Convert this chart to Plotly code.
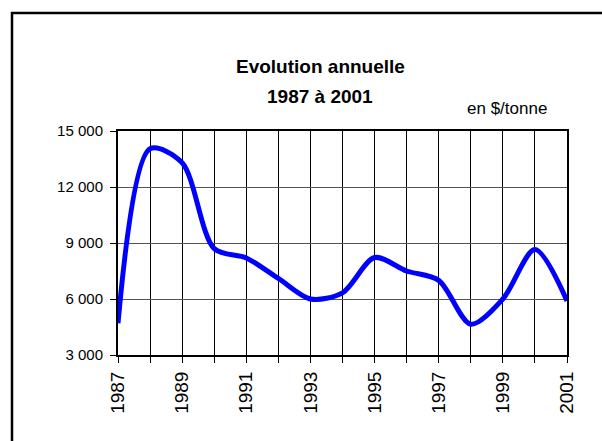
import plotly.graph_objects as go

years  = list(range(1987, 2002))
prices = [4700, 14050, 13300, 8700, 8200, 7100, 6000, 6330, 8220, 7500, 7000, 4650, 6000, 8650, 5900]

title_line1 = "Evolution annuelle"
title_line2 = "1987 à 2001"
unit_label  = "en $/tonne"

font_family = "Arial, Liberation Sans, sans-serif"

fig = go.Figure()

fig.add_trace(go.Scatter(x=years, y=prices, mode="lines",
                         line=dict(color="#0000FF", width=5, shape="spline", smoothing=0.85),
                         showlegend=False, hoverinfo="x+y"))

fig.update_layout(
    width=602, height=441,
    margin=dict(l=118, r=35, t=131, b=86),
    paper_bgcolor="white", plot_bgcolor="white",
    separators=", ",
    font=dict(family=font_family, color="black"),
    showlegend=False,
)

fig.update_xaxes(
    range=[1987, 2001], tick0=1987, dtick=2,
    tickangle=-90, tickfont=dict(size=19),
    ticks="outside", ticklen=6, tickcolor="black",
    showgrid=True, gridcolor="black", gridwidth=1,
    minor=dict(dtick=1, ticks="outside", ticklen=6, tickcolor="black",
               showgrid=True, gridcolor="black", gridwidth=1),
    showline=True, linecolor="black", linewidth=2, mirror=True,
    zeroline=False, ticklabelstandoff=1,
)

fig.update_yaxes(
    range=[3000, 15000], tick0=3000, dtick=3000, tickformat=",d",
    tickfont=dict(size=15),
    ticks="outside", ticklen=6, tickcolor="black",
    showgrid=True, gridcolor="#555555", gridwidth=1,
    showline=True, linecolor="black", linewidth=2, mirror=True,
    zeroline=False, ticklabelstandoff=4,
)

# title lines and unit
fig.add_annotation(text="<b>" + title_line1 + "</b>", xref="paper", yref="paper",
                   x=(320 - 118) / 449, y=1 + (131 - 66.5) / 224,
                   xanchor="center", yanchor="middle", showarrow=False,
                   font=dict(size=19, family=font_family))
fig.add_annotation(text="<b>" + title_line2 + "</b>", xref="paper", yref="paper",
                   x=(320 - 118) / 449, y=1 + (131 - 96) / 224,
                   xanchor="center", yanchor="middle", showarrow=False,
                   font=dict(size=19, family=font_family))
fig.add_annotation(text=unit_label, xref="paper", yref="paper",
                   x=(507 - 118) / 449, y=1 + (131 - 109) / 224,
                   xanchor="center", yanchor="middle", showarrow=False,
                   font=dict(size=17, family=font_family))

# outer frame (left and top edges visible)
fig.add_shape(type="rect", xref="paper", yref="paper",
              x0=(12 - 118) / 449, x1=2.0, y0=-2.0, y1=1 + (131 - 13) / 224,
              line=dict(color="black", width=2.5), layer="above")

fig.write_html("out.html", config={"displayModeBar": False},
               post_script="document.body.style.margin='0px';")
